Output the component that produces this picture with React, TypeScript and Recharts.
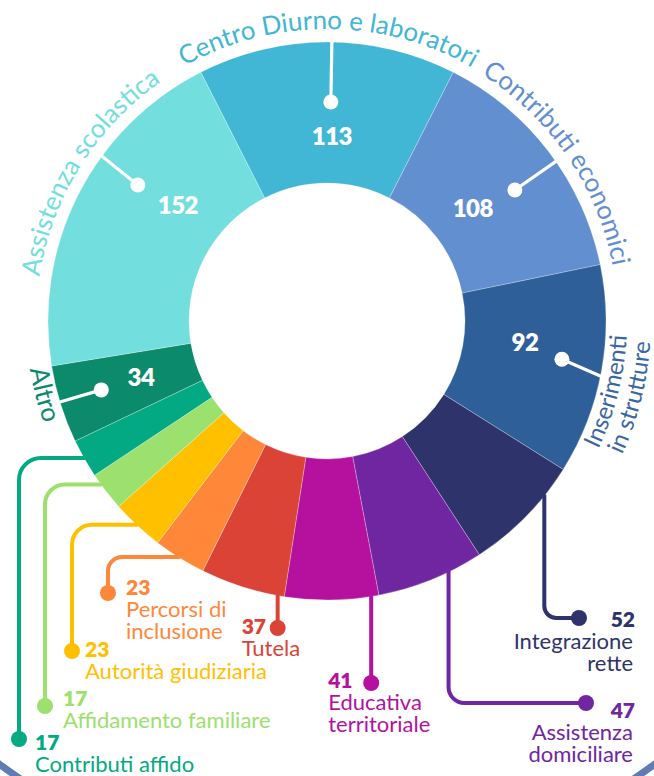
import React from 'react';
import { PieChart, Pie, Cell } from 'recharts';

// servizi, in senso orario a partire da "Centro Diurno"
const categories = [
    'Centro Diurno e laboratori',
    'Contributi economici',
    'Inserimenti in strutture',
    'Integrazione rette',
    'Assistenza domiciliare',
    'Educativa territoriale',
    'Tutela',
    'Percorsi di inclusione',
    'Autorità giudiziaria',
    'Affidamento familiare',
    'Contributi affido',
    'Altro',
    'Assistenza scolastica',
];
const values = [113, 108, 92, 52, 47, 41, 37, 23, 23, 17, 17, 34, 152];
const labelLines = [
    ['Centro Diurno e laboratori'],
    ['Contributi economici'],
    ['Inserimenti', 'in strutture'],
    ['Integrazione', 'rette'],
    ['Assistenza', 'domiciliare'],
    ['Educativa', 'territoriale'],
    ['Tutela'],
    ['Percorsi di', 'inclusione'],
    ['Autorità giudiziaria'],
    ['Affidamento familiare'],
    ['Contributi affido'],
    ['Altro'],
    ['Assistenza scolastica'],
];
const colors = [
    '#41B6D5', '#628FD0', '#2E5F98', '#2F336B', '#7026A1', '#B5119E', '#DC4337',
    '#FE873A', '#FFC000', '#9CE06E', '#02A982', '#0B8A6C', '#72DEDE',
];
const textColors = [
    '#41B6D5', '#628FD0', '#3A66A3', '#2F336B', '#7026A1', '#B5119E', '#DC4337',
    '#FE873A', '#FFC000', '#9CE06E', '#02A982', '#0B8A6C', '#72DEDE',
];

const chartData = categories.map((name, i) => ({ name, value: values[i] }));

// label layout (angles in degrees clockwise from 12 o'clock, offsets from pie centre)
const layout: any[] = [
    { kind: 'pin', arcShift: 0.3, arcR: [292], ccw: false, size: 26, pinShift: 1, dotShift: 1, dotR: 219, numShift: 1.5, numR: 186 },
    { kind: 'pin', arcShift: 3, arcR: [291], ccw: false, size: 26, pinShift: 2.5, dotShift: 2.5, dotR: 229, numShift: -0.6, numR: 185 },
    { kind: 'pin', arcShift: 3.8, arcR: [300, 324], ccw: true, size: 24, pinShift: 1.2, dotShift: -1, dotR: 238, numShift: -4.2, numR: 199 },
    { kind: 'elbow', route: 'down-right', frac: 0.26, dot: [252, 297], corner: 12, text: [308, 306], anchor: 'end' },
    { kind: 'elbow', route: 'down-right', frac: 0.32, dot: [259, 382], corner: 16, text: [308, 397], anchor: 'end' },
    { kind: 'elbow', route: 'down', frac: 0.08, dotY: 362, textDx: -43, textY: 367 },
    { kind: 'elbow', route: 'down', frac: 0.08, dotY: 307, textDx: -36, textY: 313 },
    { kind: 'elbow', route: 'left-down', frac: 0.5, dotX: -219, dotY: 272, corner: 14, textDx: 18, textY: 274 },
    { kind: 'elbow', route: 'left-down', frac: 0.5, dotX: -255, dotY: 330, corner: 20, textDx: 13, textY: 336 },
    { kind: 'elbow', route: 'left-down', frac: 0.7, dotX: -282, dotY: 385, corner: 20, textDx: 18, textY: 385 },
    { kind: 'elbow', route: 'left-down', frac: 0.5, dotX: -308, dotY: 418, corner: 22, textDx: 16, textY: 429 },
    { kind: 'pin', arcShift: 2.8, arcR: [301], ccw: true, size: 26, pinShift: 0.5, dotShift: 0.4, dotR: 236, numShift: 0.9, numR: 194 },
    { kind: 'pin', arcShift: 5.1, arcR: [291], ccw: false, size: 26, pinShift: 9.3, dotShift: 8.8, dotR: 233, numShift: 11, numR: 189 },
];

const FONT = 'Lato, "Open Sans", sans-serif';
const RAD = Math.PI / 180;
const pt = (cx: number, cy: number, r: number, a: number) => [cx + r * Math.sin(a * RAD), cy - r * Math.cos(a * RAD)];

const arcPath = (cx: number, cy: number, r: number, center: number, ccw: boolean) => {
    const half = 70;
    if (!ccw) {
        const [x1, y1] = pt(cx, cy, r, center - half);
        const [x2, y2] = pt(cx, cy, r, center + half);
        return `M${x1},${y1} A${r},${r} 0 0 1 ${x2},${y2}`;
    }
    const [x1, y1] = pt(cx, cy, r, center + half);
    const [x2, y2] = pt(cx, cy, r, center - half);
    return `M${x1},${y1} A${r},${r} 0 0 0 ${x2},${y2}`;
};

const renderLabel = (props: any) => {
    const { cx, cy, midAngle, percent, index, outerRadius } = props;
    const cfg = layout[index];
    const mid = 90 - midAngle;
    const span = percent * 360;
    const color = colors[index];
    const tColor = textColors[index];
    const lines = labelLines[index];
    const value = values[index];

    const deco = index === 0 ? (
        <circle cx={cx} cy={cy} r={551} fill="none" stroke="#5F7DB2" strokeWidth={7} />
    ) : null;

    if (cfg.kind === 'pin') {
        const [ox, oy] = pt(cx, cy, outerRadius + 1, mid + cfg.pinShift);
        const [dx, dy] = pt(cx, cy, cfg.dotR, mid + cfg.dotShift);
        const [nx, ny] = pt(cx, cy, cfg.numR, mid + cfg.numShift);
        return (
            <g key={`lbl-${index}`}>
                {deco}
                <defs>
                    {cfg.arcR.map((r: number, li: number) => (
                        <path key={li} id={`arc-${index}-${li}`} d={arcPath(cx, cy, r, mid + cfg.arcShift, cfg.ccw)} />
                    ))}
                </defs>
                {cfg.arcR.map((r: number, li: number) => (
                    <text key={li} fontFamily={FONT} fontWeight={400} fontSize={cfg.size} fill={tColor}>
                        <textPath href={`#arc-${index}-${li}`} startOffset="50%" textAnchor="middle">
                            {lines[li]}
                        </textPath>
                    </text>
                ))}
                <line x1={ox} y1={oy} x2={dx} y2={dy} stroke="#fff" strokeWidth={3.2} />
                <circle cx={dx} cy={dy} r={7.5} fill="#fff" />
                <text x={nx} y={ny} fill="#fff" fontFamily={FONT} fontWeight={800} fontSize={24}
                    textAnchor="middle" dominantBaseline="central" letterSpacing={-0.5}>
                    {value}
                </text>
            </g>
        );
    }

    const a = mid + (cfg.frac - 0.5) * span;
    const [ax, ay] = pt(cx, cy, outerRadius - 1, a);
    let d = '';
    let dotX = 0;
    let dotY = 0;
    let tx = 0;
    let ty = 0;
    let anchor: 'start' | 'end' = 'start';
    if (cfg.route === 'down-right') {
        dotX = cx + cfg.dot[0];
        dotY = cy + cfg.dot[1];
        const c = cfg.corner;
        d = `M${ax},${ay} L${ax},${dotY - c} A${c},${c} 0 0 0 ${ax + c},${dotY} L${dotX},${dotY}`;
        tx = cx + cfg.text[0];
        ty = cy + cfg.text[1];
        anchor = 'end';
    } else if (cfg.route === 'down') {
        dotX = ax;
        dotY = cy + cfg.dotY;
        d = `M${ax},${ay} L${ax},${dotY}`;
        tx = dotX + cfg.textDx;
        ty = cy + cfg.textY;
    } else {
        dotX = cx + cfg.dotX;
        dotY = cy + cfg.dotY;
        const c = cfg.corner;
        d = `M${ax},${ay} L${dotX + c},${ay} A${c},${c} 0 0 0 ${dotX},${ay + c} L${dotX},${dotY}`;
        tx = dotX + cfg.textDx;
        ty = cy + cfg.textY;
    }
    return (
        <g key={`lbl-${index}`}>
            <path d={d} fill="none" stroke={color} strokeWidth={4} />
            <circle cx={dotX} cy={dotY} r={8} fill={color} />
            <text x={tx} y={ty} fill={tColor} fontFamily={FONT} fontWeight={800} fontSize={21}
                textAnchor={anchor}>
                {value}
            </text>
            {lines.map((ln: string, li: number) => (
                <text key={li} x={anchor === 'end' ? tx - 2 : tx} y={ty + 22 * (li + 1)} fill={tColor}
                    fontFamily={FONT} fontWeight={400} fontSize={22} textAnchor={anchor}>
                    {ln}
                </text>
            ))}
        </g>
    );
};

export default function App() {
    return (
        <div style={{ position: 'absolute', left: 0, top: 0, width: 654, height: 776, background: '#fff' }}>
            <PieChart width={654} height={776} margin={{ top: 0, right: 0, bottom: 0, left: 0 }}>
                <Pie
                    data={chartData}
                    dataKey="value"
                    nameKey="name"
                    cx={327}
                    cy={321}
                    innerRadius={138}
                    outerRadius={279}
                    startAngle={116.9}
                    endAngle={-243.1}
                    stroke="rgba(255,255,255,0.45)"
                    strokeWidth={0.6}
                    label={renderLabel}
                    labelLine={false}
                    isAnimationActive={false}
                >
                    {chartData.map((entry, i) => (
                        <Cell key={entry.name} fill={colors[i]} />
                    ))}
                </Pie>
            </PieChart>
        </div>
    );
}
